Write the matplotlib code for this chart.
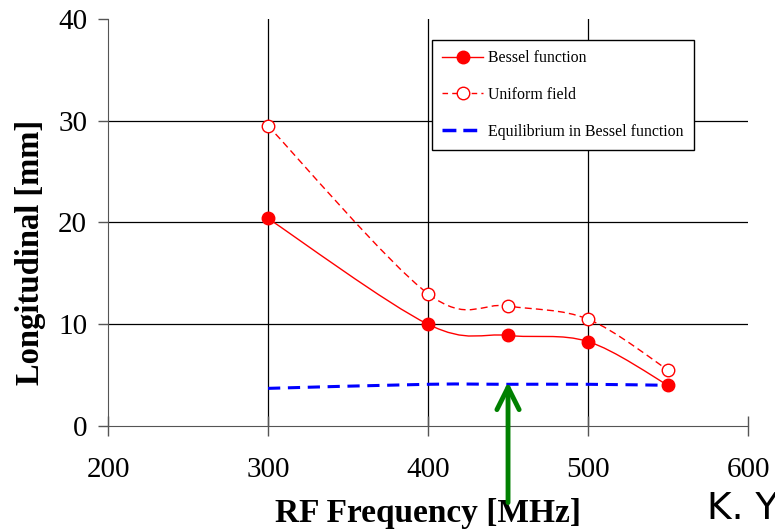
import numpy as np
import matplotlib
matplotlib.use("Agg")
import matplotlib.pyplot as plt
from matplotlib.path import Path
from matplotlib.patches import PathPatch
from matplotlib.lines import Line2D

freq = [300, 400, 450, 500, 550]
bessel = [20.4, 10.0, 8.9, 8.3, 4.0]
uniform = [29.5, 13.0, 11.8, 10.5, 5.5]
equilibrium = [3.7, 4.1, 4.1, 4.1, 4.0]

xticks = [200, 300, 400, 500, 600]
yticks = [0, 10, 20, 30, 40]

serif = ["Liberation Serif", "DejaVu Serif"]


def smooth_path(x, y, tension=1 / 6):
    # Excel-like smoothed line, as Bezier segments through the points
    x = np.asarray(x, float)
    y = np.asarray(y, float)
    verts = [(x[0], y[0])]
    codes = [Path.MOVETO]
    n = len(x)
    for i in range(n - 1):
        p0 = np.array([x[max(i - 1, 0)], y[max(i - 1, 0)]])
        p1 = np.array([x[i], y[i]])
        p2 = np.array([x[i + 1], y[i + 1]])
        p3 = np.array([x[min(i + 2, n - 1)], y[min(i + 2, n - 1)]])
        c1 = p1 + (p2 - p0) * tension
        c2 = p2 - (p3 - p1) * tension
        verts += [tuple(c1), tuple(c2), tuple(p2)]
        codes += [Path.CURVE4] * 3
    return Path(verts, codes)


fig = plt.figure(figsize=(7.75, 5.3), dpi=100)
ax = fig.add_axes([0.1394, 0.1962, 0.8258, 0.768])

ax.add_patch(PathPatch(smooth_path(freq, bessel), fill=False, color="red", lw=1))
ax.plot(freq, bessel, "o", color="red", ms=9, ls="none")

ax.add_patch(PathPatch(smooth_path(freq, uniform), fill=False, color="red",
                       lw=1, ls=(0, (5, 3))))
ax.plot(freq, uniform, "o", mfc="white", mec="red", ms=9, ls="none")

ax.add_patch(PathPatch(smooth_path(freq, equilibrium), fill=False, color="blue",
                       lw=2.2, ls=(0, (4, 2.5))))

ax.set_xlim(200, 600)
ax.set_ylim(0, 40)
ax.set_xticks(xticks)
ax.set_yticks(yticks)
for v in [300, 400, 500]:
    ax.axvline(v, color="black", lw=0.9, zorder=0)
for v in [10, 20, 30]:
    ax.axhline(v, color="black", lw=0.9, zorder=0)

for s in ["top", "right"]:
    ax.spines[s].set_visible(False)
for s in ["left", "bottom"]:
    ax.spines[s].set_color("#555555")
ax.tick_params(axis="x", direction="inout", length=14, width=1, color="#555555",
               labelsize=21, pad=15)
ax.tick_params(axis="y", direction="out", length=7, width=1, color="#555555",
               labelsize=21, pad=8)
for lab in ax.get_xticklabels() + ax.get_yticklabels():
    lab.set_family(serif)

ax.set_xlabel("RF Frequency [MHz]", family=serif, fontsize=24,
              fontweight="bold", labelpad=11)
ax.set_ylabel("Longitudinal [mm]", family=serif, fontsize=23.5,
              fontweight="bold")
ax.yaxis.set_label_coords(-0.097, 0.4275)

handles = [
    Line2D([], [], color="red", lw=1, marker="o", ms=9),
    Line2D([], [], color="red", lw=1, ls=(0, (4, 3)), marker="o", mfc="white", ms=9),
    Line2D([], [], color="blue", lw=2.5, ls=(0, (4, 2))),
]
leg = ax.legend(handles, ["Bessel function", "Uniform field",
                          "Equilibrium in Bessel function"],
                loc="upper left", bbox_to_anchor=(0.506, 0.948),
                borderaxespad=0,
                prop={"family": serif, "size": 11.4}, frameon=True,
                fancybox=False, edgecolor="black", framealpha=1,
                labelspacing=1.3, handlelength=2.6, handletextpad=0.3,
                borderpad=0.65)
leg.get_frame().set_linewidth(1)

ax.annotate("", xy=(450, 4.6), xytext=(450, -7.8),
            arrowprops=dict(arrowstyle="->", color="green", lw=3.5,
                            mutation_scale=40),
            annotation_clip=False)

fig.text(0.912, 0.005, "K. Y", fontsize=27, family="DejaVu Sans",
         ha="left", va="bottom")

fig.savefig("out.png", dpi=100)
